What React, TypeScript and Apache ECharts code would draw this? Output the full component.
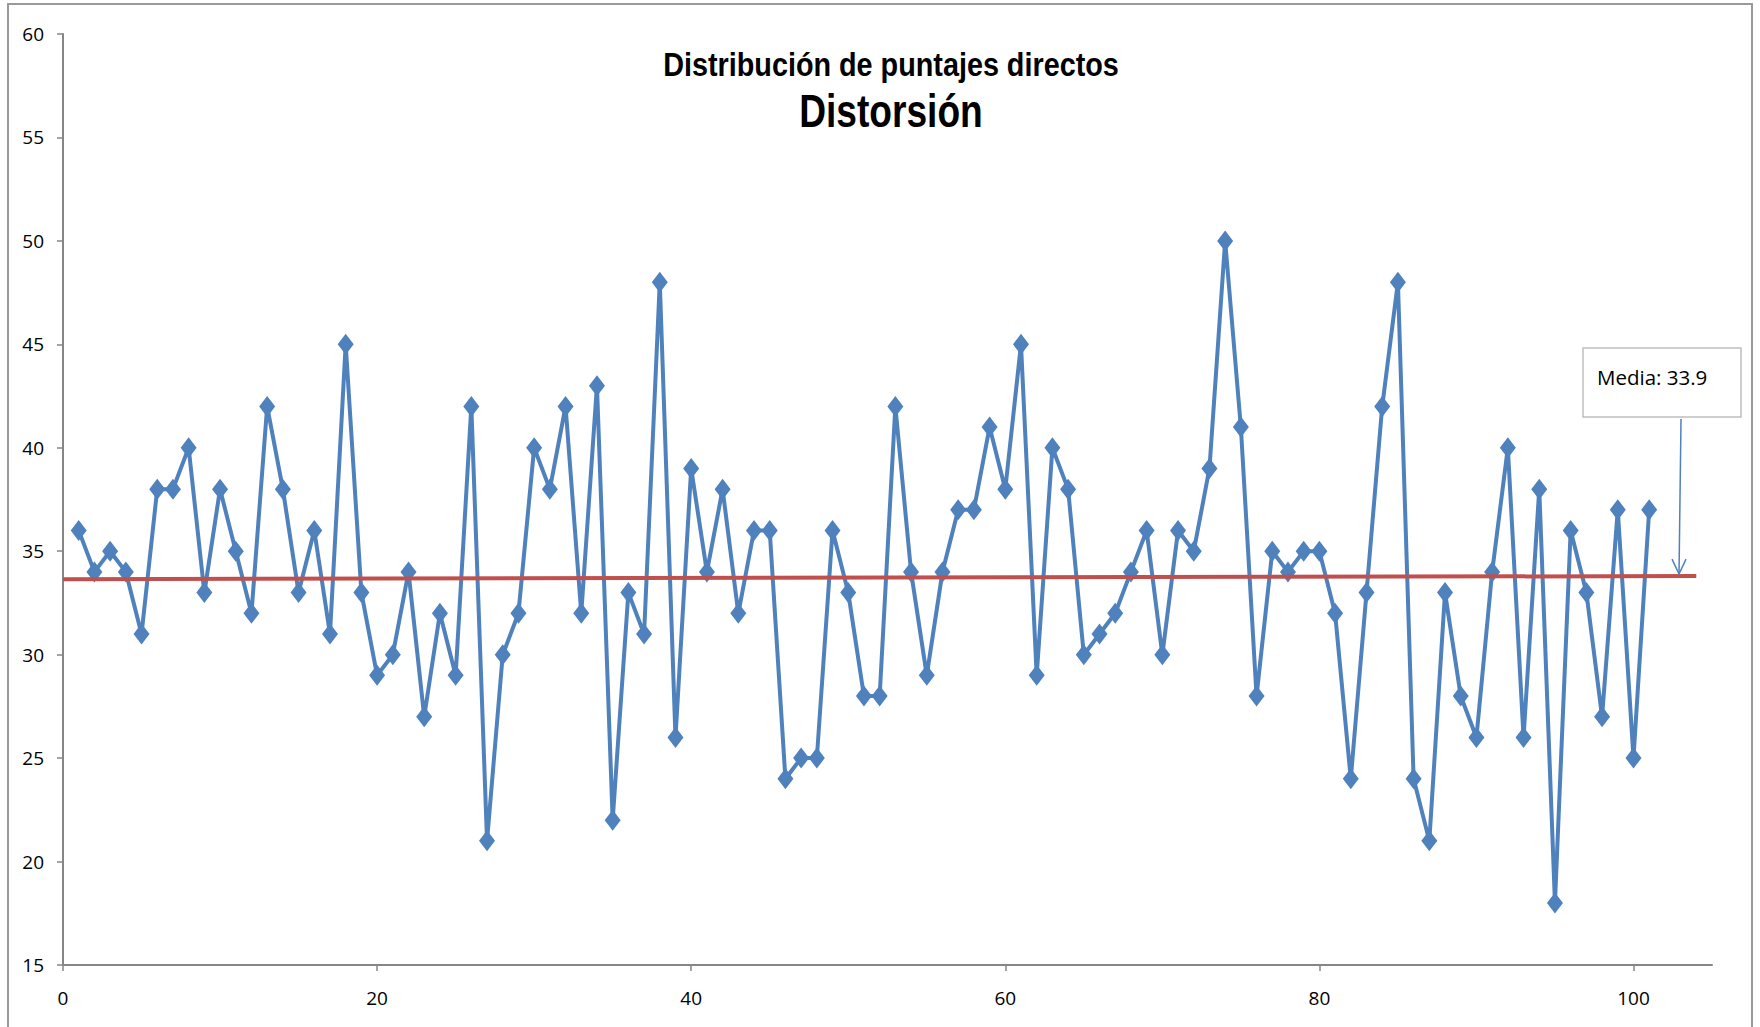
import React, { useEffect, useRef } from "react";
import * as echarts from "echarts";

const titleLine1 = "Distribución de puntajes directos";
const titleLine2 = "Distorsión";
const meanLabel = "Media: 33.9";

const scores = [
  36, 34, 35, 34, 31, 38, 38, 40, 33, 38,
  35, 32, 42, 38, 33, 36, 31, 45, 33, 29,
  30, 34, 27, 32, 29, 42, 21, 30, 32, 40,
  38, 42, 32, 43, 22, 33, 31, 48, 26, 39,
  34, 38, 32, 36, 36, 24, 25, 25, 36, 33,
  28, 28, 42, 34, 29, 34, 37, 37, 41, 38,
  45, 29, 40, 38, 30, 31, 32, 34, 36, 30,
  36, 35, 39, 50, 41, 28, 35, 34, 35, 35,
  32, 24, 33, 42, 48, 24, 21, 33, 28, 26,
  34, 40, 26, 38, 18, 36, 33, 27, 37, 25,
  37,
];
const caseNumbers = scores.map((_, i) => i + 1);

// linear trend line drawn as "mean" line (start / end)
const trendX = [0, 104];
const trendY = [33.65, 33.8];

const xTicks = [0, 20, 40, 60, 80, 100];
const xMin = 0;
const xMax = 105;
const yMin = 15;
const yMax = 60;
const yInterval = 5;

const arrowTipX = 102.9;

const BLUE = "#4F81BD";
const RED = "#C0504D";
const AXIS = "#868686";
const LABEL_FONT = "'Open Sans', 'Liberation Sans', sans-serif";
const TITLE_FONT = "'Liberation Sans', Arial, sans-serif";

export default function App() {
  const ref = useRef<HTMLDivElement>(null);

  useEffect(() => {
    if (!ref.current) return;
    const chart = echarts.init(ref.current, null, { renderer: "svg" });

    const seriesData = caseNumbers.map((x, i) => [x, scores[i]]);
    const trendData = trendX.map((x, i) => [x, trendY[i]]);

    chart.setOption({
      animation: false,
      backgroundColor: "#ffffff",
      grid: { left: 63, right: 48, top: 34, bottom: 62, containLabel: false },
      xAxis: {
        type: "value",
        min: xMin,
        max: xMax,
        interval: 20,
        splitLine: { show: false },
        axisLine: { show: true, lineStyle: { color: AXIS, width: 2 } },
        axisTick: {
          show: true,
          inside: false,
          length: 6,
          customValues: xTicks,
          lineStyle: { color: AXIS, width: 1.5 },
        },
        axisLabel: {
          customValues: xTicks,
          margin: 23,
          fontFamily: LABEL_FONT,
          fontSize: 19,
          color: "#000",
        },
      },
      yAxis: {
        type: "value",
        min: yMin,
        max: yMax,
        interval: yInterval,
        splitLine: { show: false },
        axisLine: { show: true, lineStyle: { color: AXIS, width: 2 } },
        axisTick: {
          show: true,
          inside: false,
          length: 6,
          lineStyle: { color: AXIS, width: 1.5 },
        },
        axisLabel: {
          margin: 19,
          fontFamily: LABEL_FONT,
          fontSize: 19,
          color: "#000",
        },
      },
      series: [
        {
          type: "line",
          data: seriesData,
          symbol: "diamond",
          symbolSize: [16, 21],
          showSymbol: true,
          lineStyle: { color: BLUE, width: 4 },
          itemStyle: { color: BLUE },
          z: 2,
        },
        {
          type: "line",
          data: trendData,
          symbol: "none",
          lineStyle: { color: RED, width: 4 },
          itemStyle: { color: RED },
          z: 3,
        },
      ],
    });

    // annotation pointing at the mean line
    const slope = (trendY[1] - trendY[0]) / (trendX[1] - trendX[0]);
    const tipVal = trendY[0] + slope * (arrowTipX - trendX[0]);
    const tip = chart.convertToPixel({ gridIndex: 0 }, [arrowTipX, tipVal]) as number[];
    const tx = tip[0];
    const ty = tip[1] - 2;
    const boxX = 1583;
    const boxY = 348;
    const boxW = 158;
    const boxH = 69;

    chart.setOption({
      graphic: [
        {
          type: "rect",
          shape: { x: 8, y: 4, width: 1744, height: 1040 },
          style: { fill: "none", stroke: "#9a9a9a", lineWidth: 2 },
          silent: true,
          z: 0,
        },
        {
          type: "text",
          x: 891,
          y: 65,
          scaleX: 0.872,
          style: {
            text: titleLine1,
            fontFamily: TITLE_FONT,
            fontWeight: "bold",
            fontSize: 33,
            fill: "#000",
            align: "center",
            verticalAlign: "middle",
          },
          z: 11,
        },
        {
          type: "text",
          x: 891,
          y: 111,
          scaleX: 0.79,
          style: {
            text: titleLine2,
            fontFamily: TITLE_FONT,
            fontWeight: "bold",
            fontSize: 47,
            fill: "#000",
            align: "center",
            verticalAlign: "middle",
          },
          z: 11,
        },
        {
          type: "rect",
          shape: { x: boxX, y: boxY, width: boxW, height: boxH },
          style: { fill: "#ffffff", stroke: "#BFBFBF", lineWidth: 1.5 },
          z: 10,
        },
        {
          type: "text",
          x: boxX + 14,
          y: boxY + 29,
          style: {
            text: meanLabel,
            fontFamily: LABEL_FONT,
            fontSize: 20.5,
            fill: "#000",
            verticalAlign: "middle",
            align: "left",
          },
          z: 11,
        },
        {
          type: "line",
          shape: { x1: tx + 2, y1: boxY + boxH + 2, x2: tx, y2: ty },
          style: { stroke: BLUE, lineWidth: 1.5 },
          z: 10,
        },
        {
          type: "polyline",
          shape: { points: [[tx - 7, ty - 15], [tx, ty], [tx + 7, ty - 15]] },
          style: { stroke: BLUE, lineWidth: 1.5, fill: "none" },
          z: 10,
        },
      ],
    });

    return () => chart.dispose();
  }, []);

  return (
    <div
      ref={ref}
      style={{ position: "fixed", left: 0, top: 0, width: 1760, height: 1027, background: "#fff" }}
    />
  );
}
